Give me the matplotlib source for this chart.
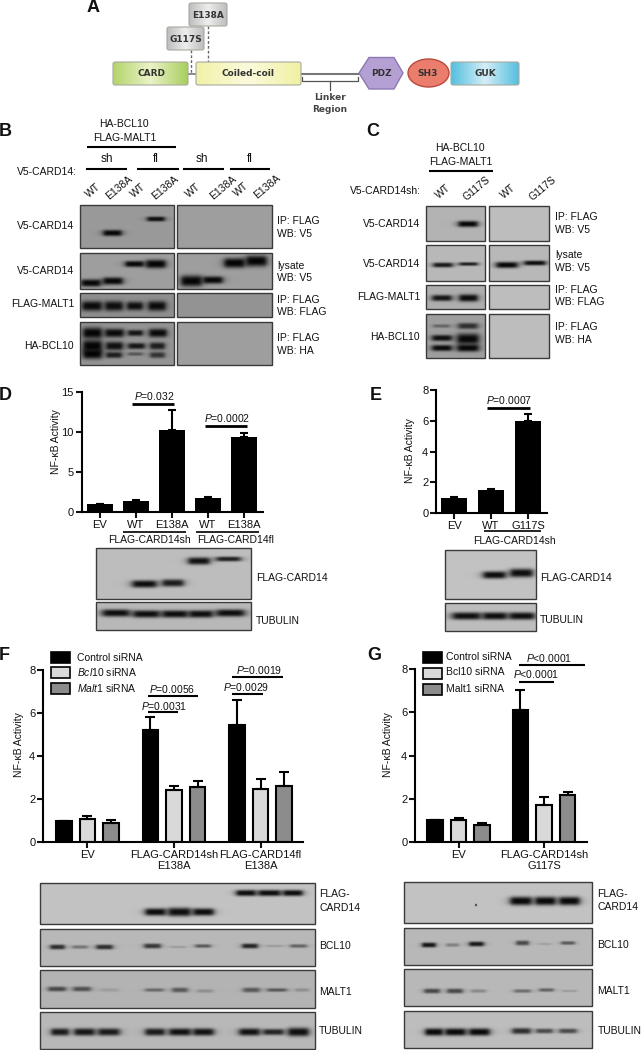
import numpy as np
import matplotlib
matplotlib.use("Agg")
import matplotlib.pyplot as plt
from matplotlib.patches import FancyBboxPatch, Polygon, Ellipse, Rectangle

plt.rcParams['font.family'] = ['Liberation Sans', 'DejaVu Sans']
plt.rcParams['mathtext.fontset'] = 'custom'
plt.rcParams['mathtext.rm'] = 'Liberation Sans'
plt.rcParams['mathtext.it'] = 'Liberation Sans:italic'
plt.rcParams['mathtext.bf'] = 'Liberation Sans:bold'

W, H = 643, 1050

# panel D
d_labels = ["EV", "WT", "E138A", "WT", "E138A"]
d_vals = [1.0, 1.4, 10.2, 1.7, 9.4]
d_err = [0.02, 0.15, 2.6, 0.15, 0.5]
# panel E
e_labels = ["EV", "WT", "G117S"]
e_vals = [1.0, 1.5, 6.0]
e_err = [0.03, 0.03, 0.45]
# panel F
f_groups = ["EV", "FLAG-CARD14sh\nE138A", "FLAG-CARD14fl\nE138A"]
f_control = [1.0, 5.2, 5.45]
f_control_err = [0.0, 0.6, 1.17]
f_bcl10 = [1.08, 2.4, 2.45]
f_bcl10_err = [0.13, 0.2, 0.47]
f_malt1 = [0.87, 2.57, 2.6]
f_malt1_err = [0.15, 0.27, 0.67]
# panel G
g_groups = ["EV", "FLAG-CARD14sh\nG117S"]
g_control = [1.0, 6.1]
g_control_err = [0.0, 0.95]
g_bcl10 = [1.0, 1.72]
g_bcl10_err = [0.12, 0.35]
g_malt1 = [0.8, 2.17]
g_malt1_err = [0.1, 0.15]

LIGHT = '#d9d9d9'
GRAY = '#8c8c8c'

fig = plt.figure(figsize=(W / 100, H / 100), dpi=100)
bg = fig.add_axes([0, 0, 1, 1], zorder=5)
bg.set_xlim(0, W)
bg.set_ylim(H, 0)
bg.axis('off')
bg.patch.set_alpha(0)


def txt(x, y, s, size=7.5, ha='left', va='center', **kw):
    bg.text(x, y, s, fontsize=size, ha=ha, va=va, color=kw.pop('color', '#111111'), **kw)


def line(x0, x1, y, lw=1.5):
    bg.plot([x0, x1], [y, y], color='black', lw=lw, solid_capstyle='butt')


def blot(x0, x1, y0, y1, base, bands):
    # bands: x start, x end, y centre, height, darkness
    xx, yy = np.meshgrid(np.arange(x0, x1) + 0.5, np.arange(y0, y1) + 0.5)
    img = np.ones(xx.shape)
    for a, b, yc, h, d in bands:
        xc = (a + b) / 2
        px = 1 / (1 + ((xx - xc) / ((b - a) / 2)) ** 6)
        py = np.exp(-np.abs((yy - yc) / (h * 0.62)) ** 2.6)
        img = img * (1 - d * px * py)
    img = img * base
    bg.imshow(img, cmap='gray', vmin=0, vmax=1, extent=(x0, x1, y1, y0),
              aspect='auto', interpolation='bilinear', zorder=1)
    bg.add_patch(Rectangle((x0, y0), x1 - x0, y1 - y0, fill=False, ec='#3a3a3a', lw=1, zorder=2))


def gradient_box(patch, left, mid, right):
    c = matplotlib.colors.LinearSegmentedColormap.from_list('g', [left, mid, right])
    x0, y0, w, h = patch
    box = FancyBboxPatch((x0 + 2, y0 + 2), w - 4, h - 4, boxstyle="round,pad=2", fc='none',
                         ec='#a9a9a0', lw=0.8, zorder=3)
    bg.add_patch(box)
    im = bg.imshow(np.linspace(0, 1, 100).reshape(1, -1), cmap=c, extent=(x0, x0 + w, y0 + h, y0),
                   aspect='auto', zorder=2)
    im.set_clip_path(box)


def bar_axes(x0, x1, y0, y1, ymax, yticks):
    ax = fig.add_axes([x0 / W, 1 - y1 / H, (x1 - x0) / W, (y1 - y0) / H], zorder=3)
    ax.patch.set_alpha(0)
    for s in ['top', 'right']:
        ax.spines[s].set_visible(False)
    for s in ['left', 'bottom']:
        ax.spines[s].set_linewidth(1.5)
    ax.set_ylim(0, ymax)
    ax.set_yticks(yticks)
    ax.tick_params(width=1.5, length=4, labelsize=8, pad=1.5, colors='#111111')
    return ax


def grouped(ax, series):
    for off, vals, errs, col in series:
        pos = np.arange(len(vals)) + off
        ax.bar(pos, vals, 0.18, color=col, edgecolor='black', linewidth=1.5)
        ax.errorbar(pos, vals, yerr=[np.zeros(len(errs)), errs], fmt='none', ecolor='black',
                    elinewidth=1.5, capsize=3.5, capthick=1.5)


# A
txt(93, 7, "A", 13, ha='center', fontweight='bold')
for x, y0, y1 in [(191, 50, 74), (208, 26, 62)]:
    bg.plot([x, x], [y0, y1], color='#666666', lw=1, ls=(0, (2, 1.5)), zorder=1)
for rect, lab in [((189, 3, 38, 23), "E138A"), ((167, 27, 37, 23), "G117S")]:
    gradient_box(rect, '#bdbdbd', '#eeeeee', '#bdbdbd')
    txt(rect[0] + rect[2] / 2, rect[1] + rect[3] / 2 + 0.5, lab, 6.5, ha='center', fontweight='bold',
        family='DejaVu Sans', color='#333333', zorder=6)
bg.plot([188, 196], [74, 74], color='#777777', lw=1.2, zorder=1)
bg.plot([301, 360], [74, 74], color='#777777', lw=1.5, zorder=1)
bg.plot([302, 302, 358, 358], [77, 81, 81, 77], color='#555555', lw=0.9)
bg.plot([330, 330], [81, 90], color='#555555', lw=0.9)
gradient_box((113, 62, 75, 23), '#b4d46a', '#eaf3c8', '#a9cf5e')
gradient_box((196, 62, 105, 23), '#f0f2a8', '#fbfbdc', '#eff1a4')
gradient_box((451, 62, 68, 23), '#55bfe0', '#d4eef6', '#55bfe0')
bg.add_patch(Polygon([(359, 73), (369, 57.5), (394, 57.5), (403, 73), (394, 89), (369, 89)],
                     fc='#b5a0d4', ec='#8d78b3', lw=1, zorder=3))
bg.add_patch(Ellipse((428.5, 73), 41, 28, fc='#ea7d6c', ec='#b94a3e', lw=1, zorder=3))
for x, lab in [(152, "CARD"), (248, "Coiled-coil"), (381, "PDZ"), (428, "SH3"), (485, "GUK")]:
    txt(x, 74, lab, 6.5, ha='center', fontweight='bold', family='DejaVu Sans', color='#333333', zorder=6)
txt(330, 97, "Linker", 6.5, ha='center', fontweight='bold', family='DejaVu Sans', color='#444444')
txt(330, 109, "Region", 6.5, ha='center', fontweight='bold', family='DejaVu Sans', color='#444444')

# B
txt(5, 131, "B", 13, ha='center', fontweight='bold')
txt(124, 124, "HA-BCL10", ha='center')
txt(125, 138, "FLAG-MALT1", ha='center')
line(87, 176, 147)
for x, s in [(107, "sh"), (156, "fl"), (202, "sh"), (250, "fl")]:
    txt(x, 159, s, 8.5, ha='center')
for a, b in [(86, 127), (137, 179), (183, 224), (230, 270)]:
    line(a, b, 169)
txt(17, 172, "V5-CARD14:")
for x, y, s in [(93, 191, "WT"), (119, 188, "E138A"), (138, 191, "WT"), (165, 188, "E138A"),
                (193, 191, "WT"), (223, 188, "E138A"), (241, 190, "WT"), (267, 187, "E138A")]:
    txt(x, y, s, ha='center', rotation=40, rotation_mode='anchor')
for y, s in [(226, "V5-CARD14"), (271, "V5-CARD14"), (304, "FLAG-MALT1"), (346, "HA-BCL10")]:
    txt(74, y, s, ha='right')
for y, s in [(221, "IP: FLAG"), (234, "WB: V5"), (266, "lysate"), (278, "WB: V5"),
             (300, "IP: FLAG"), (312, "WB: FLAG"), (338, "IP: FLAG"), (351, "WB: HA")]:
    txt(277, y, s)
blot(80, 174, 205, 248, 0.6, [(103, 122, 233, 5, .95), (147, 165, 219, 4, .9)])
blot(177, 272, 205, 248, 0.62, [])
blot(80, 174, 253, 289, 0.62, [(81, 101, 283, 6, .95), (103, 123, 281, 6, .95), (125, 144, 264, 5, .95),
                               (146, 166, 264, 7, .97)])
blot(177, 272, 253, 289, 0.62, [(181, 202, 281, 9, .97), (203, 223, 280, 6, .95), (224, 245, 263, 8, .97),
                                (246, 267, 261, 9, .97)])
blot(80, 174, 293, 317, 0.56, [(82, 102, 306, 8, .93), (105, 123, 306, 8, .9), (127, 143, 306, 7, .9),
                               (148, 166, 306, 8, .92)])
blot(177, 272, 293, 317, 0.58, [])
blot(80, 174, 322, 365, 0.58, [(83, 102, 333, 9, .97), (105, 124, 333, 7, .93), (128, 143, 333, 5, .85),
                               (149, 167, 333, 7, .93), (83, 102, 346, 10, .97), (106, 123, 346, 7, .9),
                               (128, 145, 346, 5, .85), (150, 165, 346, 6, .8), (83, 102, 354, 8, .97),
                               (106, 122, 355, 5, .8), (128, 143, 354, 3, .4), (150, 165, 355, 5, .65)])
blot(177, 272, 322, 365, 0.62, [])

# C
txt(373, 132, "C", 13, ha='center', fontweight='bold')
txt(460, 148, "HA-BCL10", ha='center')
txt(461, 162, "FLAG-MALT1", ha='center')
line(429, 493, 171)
txt(350, 191, "V5-CARD14sh:")
for x, y, s in [(443, 192, "WT"), (477, 188, "G117S"), (508, 192, "WT"), (543, 188, "G117S")]:
    txt(x, y, s, ha='center', rotation=40, rotation_mode='anchor')
for y, s in [(224, "V5-CARD14"), (264, "V5-CARD14"), (297, "FLAG-MALT1"), (337, "HA-BCL10")]:
    txt(420, y, s, ha='right')
for y, s in [(217, "IP: FLAG"), (230, "WB: V5"), (255, "lysate"), (268, "WB: V5"),
             (290, "IP: FLAG"), (302, "WB: FLAG"), (327, "IP: FLAG"), (340, "WB: HA")]:
    txt(555, y, s)
blot(426, 485, 206, 241, 0.7, [(458, 478, 224, 5, .95)])
blot(489, 549, 206, 241, 0.74, [])
blot(426, 485, 245, 281, 0.72, [(433, 453, 265, 4, .85), (459, 478, 264, 3, .8)])
blot(489, 549, 245, 281, 0.72, [(496, 518, 265, 5, .95), (524, 546, 263, 4, .92)])
blot(426, 485, 285, 309, 0.68, [(432, 452, 298, 5, .88), (459, 478, 298, 6, .92)])
blot(489, 549, 285, 309, 0.74, [])
blot(426, 485, 314, 358, 0.62, [(433, 450, 326, 3, .35), (458, 478, 326, 5, .7), (432, 452, 338, 5, .9),
                                (457, 479, 339, 9, .95), (432, 452, 348, 5, .93), (457, 479, 348, 6, .95)])
blot(489, 549, 314, 358, 0.74, [])

# D
txt(5, 396, "D", 13, ha='center', fontweight='bold')
ax = bar_axes(81.5, 263, 392, 512, 15, [0, 5, 10, 15])
pos = np.arange(len(d_vals))
ax.bar(pos, d_vals, 26 / 36, color='black')
ax.errorbar(pos, d_vals, yerr=[np.zeros(len(d_err)), d_err], fmt='none', ecolor='black',
            elinewidth=1.5, capsize=3, capthick=1.5)
ax.set_xlim(-0.514, 4.53)
ax.set_xticks(pos, d_labels)
txt(56, 442, "NF-\u03baB Activity", 7.5, ha='center', rotation=90)
txt(154, 396, r"$\mathit{P}$=0.032", ha='center')
line(132, 174, 404, 2)
txt(227, 418, r"$\mathit{P}$=0.0002", ha='center')
line(205, 247, 426, 2)
line(123, 186, 532, 1.2)
line(196, 259, 532, 1.2)
txt(149, 540, "FLAG-CARD14sh", ha='center')
txt(236, 540, "FLAG-CARD14fl", ha='center')
blot(96, 251, 548, 599, 0.74, [(132, 157, 584, 6, .93), (162, 184, 583, 6, .85), (188, 210, 561, 6, .9),
                               (216, 241, 559, 4, .82)])
blot(96, 251, 602, 630, 0.72, [(102, 130, 613, 6, .92), (133, 160, 614, 6, .92), (162, 188, 614, 6, .92),
                               (189, 213, 614, 6, .92), (216, 245, 613, 6, .92)])
txt(256, 578, "FLAG-CARD14")
txt(256, 621, "TUBULIN")

# E
txt(376, 396, "E", 13, ha='center', fontweight='bold')
ax = bar_axes(436, 547, 390, 513, 8, [0, 2, 4, 6, 8])
pos = np.arange(len(e_vals))
ax.bar(pos, e_vals, 26 / 37, color='black')
ax.errorbar(pos, e_vals, yerr=[np.zeros(len(e_err)), e_err], fmt='none', ecolor='black',
            elinewidth=1.5, capsize=3, capthick=1.5)
ax.set_xlim((436 - 454) / 37, (547 - 454) / 37)
ax.set_xticks(pos, e_labels)
txt(410, 451, "NF-\u03baB Activity", 7.5, ha='center', rotation=90)
txt(509, 400, r"$\mathit{P}$=0.0007", ha='center')
line(487, 530, 408, 2)
line(484, 541, 531, 1.2)
txt(514, 541, "FLAG-CARD14sh", ha='center')
blot(445, 536, 550, 599, 0.76, [(483, 506, 575, 6, .93), (510, 533, 573, 7, .93)])
blot(445, 536, 603, 631, 0.74, [(452, 481, 616, 6, .92), (483, 507, 616, 6, .92), (509, 535, 616, 6, .92)])
txt(540, 578, "FLAG-CARD14")
txt(540, 620, "TUBULIN")

# F
txt(4, 656, "F", 13, ha='center', fontweight='bold')
ax = bar_axes(43, 303, 670, 842, 8, [0, 2, 4, 6, 8])
grouped(ax, [(-0.272, f_control, f_control_err, 'black'), (0, f_bcl10, f_bcl10_err, LIGHT),
             (0.272, f_malt1, f_malt1_err, GRAY)])
ax.set_xlim(-0.514, 2.49)
ax.set_xticks(np.arange(len(f_groups)), f_groups)
txt(19, 745, "NF-\u03baB Activity", 7.5, ha='center', rotation=90)
for y, col in [(652, 'black'), (667, LIGHT), (683, GRAY)]:
    bg.add_patch(Rectangle((51, y), 19, 10.5, fc=col, ec='black', lw=1.2))
txt(77, 658, "Control siRNA")
txt(77, 672, r"$\mathit{Bcl10}$ siRNA")
txt(77, 688, r"$\mathit{Malt1}$ siRNA")
txt(172, 689, r"$\mathit{P}$=0.0056", ha='center')
line(148, 198, 696)
txt(164, 706, r"$\mathit{P}$=0.0031", ha='center')
line(148, 178, 712)
txt(259, 670, r"$\mathit{P}$=0.0019", ha='center')
line(232, 283, 677)
txt(246, 687, r"$\mathit{P}$=0.0029", ha='center')
line(232, 263, 694)
blot(40, 315, 883, 924, 0.76, [(145, 166, 912, 6, .93), (168, 191, 912, 7, .93), (193, 214, 912, 6, .93),
                               (236, 256, 893, 5, .93), (258, 281, 893, 5, .93), (283, 303, 893, 5, .93)])
blot(40, 315, 929, 966, 0.72, [(50, 65, 947, 4, .75), (72, 88, 947, 3, .35), (96, 113, 947, 4, .75),
                               (144, 161, 946, 4, .7), (170, 186, 947, 2, .15), (195, 211, 946, 3, .5),
                               (242, 258, 946, 4, .8), (266, 283, 946, 2, .15), (290, 307, 946, 3, .45)])
blot(40, 315, 970, 1008, 0.7, [(48, 66, 989, 4, .6), (73, 91, 989, 4, .55), (100, 119, 990, 3, .12),
                               (145, 164, 990, 3, .4), (172, 188, 990, 4, .5), (197, 213, 991, 3, .2),
                               (243, 260, 990, 4, .5), (267, 287, 990, 3, .5), (295, 309, 990, 3, .2)])
blot(40, 315, 1012, 1049, 0.72, [(51, 69, 1032, 6, .85), (74, 95, 1032, 6, .88), (98, 120, 1032, 6, .85),
                                 (145, 165, 1032, 6, .85), (169, 191, 1032, 6, .9), (193, 214, 1032, 6, .9),
                                 (239, 260, 1032, 6, .9), (263, 284, 1032, 5, .8), (288, 309, 1032, 7, .92)])
for y, s in [(894, "FLAG-"), (908, "CARD14"), (946, "BCL10"), (992, "MALT1"), (1031, "TUBULIN")]:
    txt(319, y, s)

# G
txt(374, 656, "G", 13, ha='center', fontweight='bold')
ax = bar_axes(415, 587, 669, 842, 8, [0, 2, 4, 6, 8])
grouped(ax, [(-0.275, g_control, g_control_err, 'black'), (0, g_bcl10, g_bcl10_err, LIGHT),
             (0.275, g_malt1, g_malt1_err, GRAY)])
ax.set_xlim(-0.509, 1.503)
ax.set_xticks(np.arange(len(g_groups)), g_groups)
txt(388, 745, "NF-\u03baB Activity", 7.5, ha='center', rotation=90)
for y, col in [(652, 'black'), (668, LIGHT), (684, GRAY)]:
    bg.add_patch(Rectangle((423, y), 19, 10.5, fc=col, ec='black', lw=1.2))
txt(446, 657, "Control siRNA")
txt(446, 672, "Bcl10 siRNA")
txt(446, 689, "Malt1 siRNA")
txt(549, 658, r"$\mathit{P}$<0.0001", ha='center')
line(519, 585, 665)
txt(536, 674, r"$\mathit{P}$<0.0001", ha='center')
line(519, 554, 682)
blot(404, 592, 882, 923, 0.76, [(510, 532, 901, 7, .95), (535, 556, 901, 7, .95), (559, 580, 901, 7, .95),
                                (475, 477, 905, 2, .6)])
blot(404, 592, 928, 965, 0.72, [(422, 436, 945, 4, .88), (446, 459, 945, 3, .3), (469, 484, 944, 4, .85),
                                (516, 529, 943, 4, .6), (538, 551, 944, 2, .12), (561, 575, 943, 3, .5)])
blot(404, 592, 969, 1006, 0.72, [(424, 440, 991, 4, .6), (447, 463, 991, 4, .6), (471, 486, 991, 3, .25),
                                 (514, 531, 991, 3, .4), (539, 554, 990, 3, .45), (562, 577, 991, 2, .15)])
blot(404, 592, 1011, 1048, 0.74, [(425, 443, 1032, 6, .95), (445, 466, 1032, 6, .95), (469, 490, 1032, 6, .95),
                                  (512, 531, 1031, 5, .75), (536, 553, 1031, 4, .6), (559, 577, 1031, 4, .6)])
for y, s in [(894, "FLAG-"), (907, "CARD14"), (945, "BCL10"), (991, "MALT1"), (1031, "TUBULIN")]:
    txt(597.5, y, s)

bg.set_xlim(0, W)
bg.set_ylim(H, 0)
fig.savefig("out.png", dpi=100)
